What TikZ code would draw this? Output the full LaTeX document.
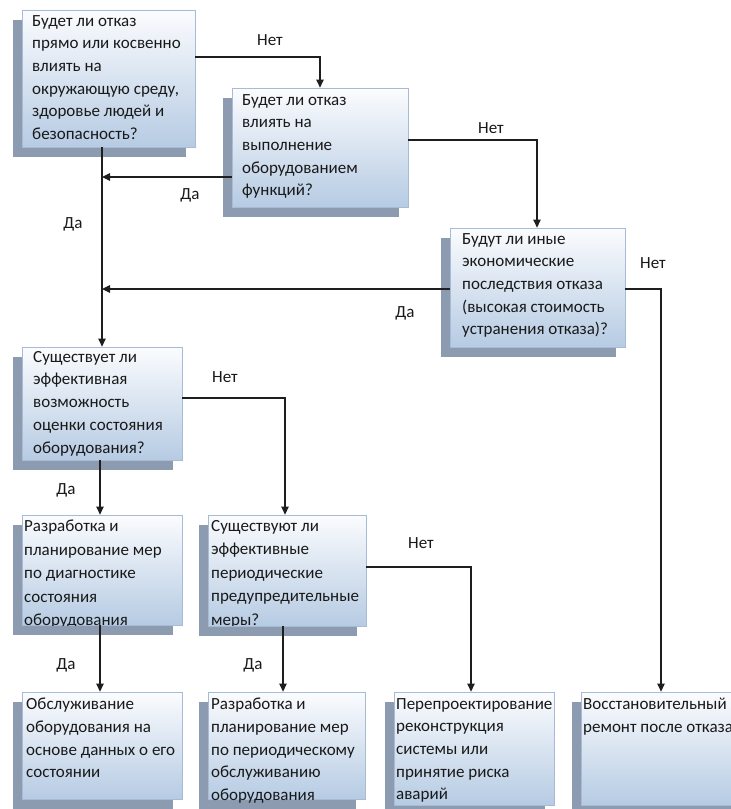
\documentclass[tikz,border=0pt]{standalone}
\usepackage{fontspec}
\setmainfont{Carlito}
\usetikzlibrary{arrows.meta,shadows,calc}
\definecolor{boxtop}{HTML}{FBFCFE}
\definecolor{boxbot}{HTML}{B6CBE3}
\definecolor{boxline}{HTML}{A7BBD6}
\definecolor{shadowc}{HTML}{8C9BAF}
\definecolor{linec}{HTML}{1E1E1E}
\tikzset{
  fbox/.style={rectangle, inner sep=0pt, draw=boxline, line width=0.8bp,
    top color=boxtop, bottom color=boxbot,
    general shadow={fill=shadowc, shadow xshift=-9bp, shadow yshift=-10bp}},
  txt/.style={anchor=north west, inner sep=0pt, align=left,
    font=\fontsize{17bp}{22.7bp}\selectfont, text=black!90,
    execute at begin node={\rule{0pt}{13bp}}},
  txtw/.style={txt, font=\fontsize{17bp}{23.5bp}\selectfont},
  lbl/.style={inner sep=0pt, font=\fontsize{17bp}{20bp}\selectfont, text=black!90},
  arr/.style={draw=linec, line width=1.1bp, -{Triangle[length=8bp,width=7.5bp]}},
}
\newcommand{\mkbox}[5]{% name, x1, y1, x2, y2
  \node[fbox, minimum width={(#4-#2)*1bp}, minimum height={(#5-#3)*1bp}] (#1) at ({(#2+#4)/2},{(#3+#5)/2}) {};}
\begin{document}
\begin{tikzpicture}[x=1bp,y=-1bp]
\useasboundingbox[fill=white] (0,0) rectangle (731,809);
% boxes
\mkbox{b1}{22}{10}{195}{147}
\mkbox{b2}{232}{88}{408}{207}
\mkbox{b3}{450}{228}{625}{347}
\mkbox{b4}{22}{347}{182}{460}
\mkbox{b5}{22}{515}{182}{625}
\mkbox{b6}{208}{515}{366}{626}
\mkbox{b7}{22}{692}{182}{799}
\mkbox{b8}{208}{692}{365}{799}
\mkbox{b9}{394}{692}{554}{805}
\mkbox{b10}{581}{692}{741}{805}
% texts (anchor = first baseline minus 13)
\node[txt] (t1) at (32,15) {Будет ли отказ\\прямо или косвенно\\влиять на\\окружающую среду,\\здоровье людей и\\безопасность?};
\node[txt] (t2) at (242,94) {Будет ли отказ\\влиять на\\выполнение\\оборудованием\\функций?};
\node[txt] (t3) at (462,233) {Будут ли иные\\экономические\\последствия отказа\\(высокая стоимость\\устранения отказа)?};
\node[txt] (t4) at (33,351) {Существует ли\\эффективная\\возможность\\оценки состояния\\оборудования?};
\begin{scope}
\clip (b5.south west) rectangle (b6.north east);
\node[txtw] (t5) at (24,520) {Разработка и\\планирование мер\\по диагностике\\состояния\\оборудования};
\node[txtw] (t6) at (211,520) {Существуют ли\\эффективные\\периодические\\предупредительные\\меры?};
\end{scope}
\node[txt] (t7) at (26,698) {Обслуживание\\оборудования на\\основе данных о его\\состоянии};
\node[txt] (t8) at (211,698) {Разработка и\\планирование мер\\по периодическому\\обслуживанию\\оборудования};
\node[txt] (t9) at (396,698) {Перепроектирование\\реконструкция\\системы или\\принятие риска\\аварий};
\node[txt] (t10) at (583,698) {Восстановительный\\ремонт после отказа};
% junctions
\coordinate (j1) at (102,177);
\coordinate (j2) at (102,289);
\coordinate (c1) at (320,57);
\coordinate (c2) at (537,140);
\coordinate (c3) at (661,289);
\coordinate (c4) at (285,398);
\coordinate (c6) at (471,567);
% connectors
\draw[arr] (b1.east |- c1) -- (c1) -- (b2.north);
\draw[arr] (b1.south -| b4.north) -- (b4.north);
\draw[arr] (b2.west |- j1) -- (j1);
\draw[arr] (b2.east |- c2) -- (c2) -- (c2 |- b3.north);
\draw[arr] (b3.west |- j2) -- (j2);
\draw[arr] (b3.east |- c3) -- (c3) -- (c3 |- b10.north);
\draw[arr] (b4.east |- c4) -- (c4) -- (c4 |- b6.north);
\draw[arr] (b4.south -| 100,0) -- (b5.north -| 100,0);
\draw[arr] (b5.south -| 100,0) -- (b7.north -| 100,0);
\draw[arr] (b6.south -| 283,0) -- (b8.north -| 283,0);
\draw[arr] (b6.east |- c6) -- (c6) -- (c6 |- b9.north);
% labels
\node[lbl] (l1) at (270,40) {Нет};
\node[lbl] (l2) at (190,195) {Да};
\node[lbl] (l3) at (73,224) {Да};
\node[lbl] (l4) at (491,128) {Нет};
\node[lbl] (l5) at (405,313) {Да};
\node[lbl] (l6) at (653,263) {Нет};
\node[lbl] (l7) at (225,377) {Нет};
\node[lbl] (l8) at (66,490) {Да};
\node[lbl] (l9) at (421,543) {Нет};
\node[lbl] (l10) at (66,665) {Да};
\node[lbl] (l11) at (253,665) {Да};
\end{tikzpicture}
\end{document}
